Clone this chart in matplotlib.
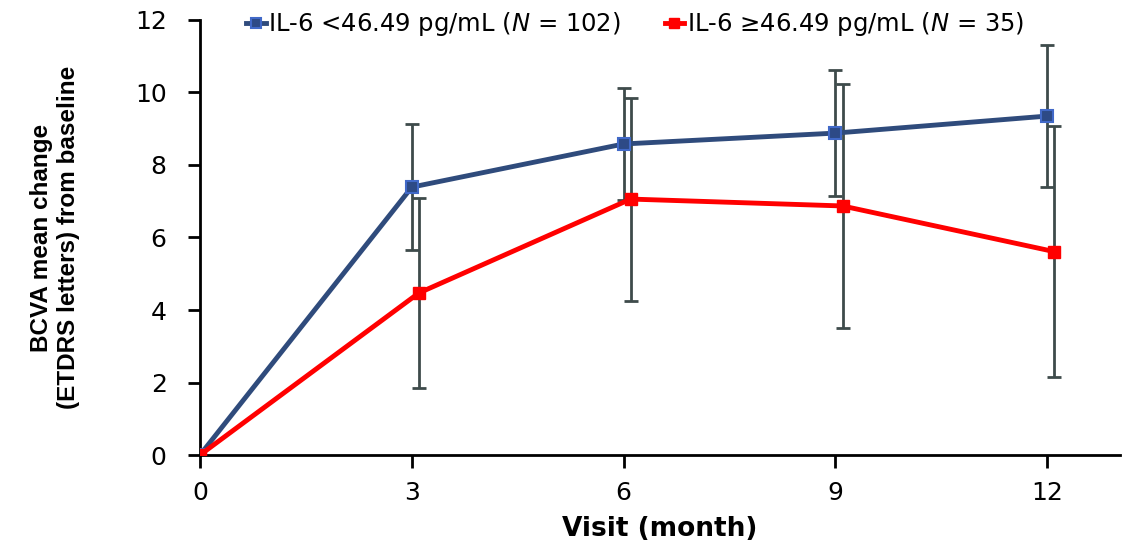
import numpy as np
import matplotlib.pyplot as plt

plt.rcParams['font.family'] = ['Liberation Sans', 'DejaVu Sans']

months = [0, 3, 6, 9, 12]
low_mean = [0, 7.39, 8.58, 8.88, 9.35]
low_err = [0, 1.74, 1.55, 1.74, 1.96]
high_mean = [0, 4.47, 7.06, 6.87, 5.61]
high_err = [0, 2.63, 2.80, 3.36, 3.46]
high_shift = 0.1

low_label = 'IL-6 <46.49 pg/mL ($\\it{N}$ = 102)'
high_label = 'IL-6 \u226546.49 pg/mL ($\\it{N}$ = 35)'

wide = 'DejaVu Sans'

fig = plt.figure(figsize=(11.26, 5.49), dpi=100)
ax = fig.add_axes([0.1776, 0.1712, 0.8171, 0.7924])

bar_col = '#3e4b4b'
x_low = np.array(months, dtype=float)
x_high = x_low + np.array([0] + [high_shift] * 4)

ax.errorbar(x_low[1:], low_mean[1:], yerr=low_err[1:], fmt='none',
            ecolor=bar_col, elinewidth=2, capsize=5, capthick=2, zorder=2)
ax.errorbar(x_high[1:], high_mean[1:], yerr=high_err[1:], fmt='none',
            ecolor=bar_col, elinewidth=2, capsize=5, capthick=2, zorder=2)

ax.plot(x_low, low_mean, color='#2f4b7c', lw=3.5, marker='s', ms=9,
        mfc='#2d4a86', mec='#4169c8', mew=1.5, label=low_label, zorder=3)
ax.plot(x_high, high_mean, color='#ff0000', lw=3.5, marker='s', ms=9,
        mfc='#ff0000', mec='#ff0000', label=high_label, zorder=4)

ax.set_xlim(0, 13.03)
ax.set_ylim(0, 12)
ax.set_xticks(months)
ax.set_yticks(range(0, 13, 2))
ax.spines['top'].set_visible(False)
ax.spines['right'].set_visible(False)
ax.spines['left'].set_linewidth(2)
ax.spines['bottom'].set_linewidth(2)
ax.tick_params(axis='both', width=2, length=9, direction='out')
ax.tick_params(axis='x', pad=10)
ax.tick_params(axis='y', pad=15)
for lab in ax.get_xticklabels() + ax.get_yticklabels():
    lab.set_family(wide)
    lab.set_fontsize(18)

ax.set_xlabel('Visit (month)', fontsize=19, fontweight='bold', family=wide)
ax.xaxis.set_label_coords(0.5, -0.14)
ax.set_ylabel('BCVA mean change\n(ETDRS letters) from baseline', fontsize=17.5,
              fontweight='bold', linespacing=1.25)
ax.yaxis.set_label_coords(-0.13, 0.5)

leg = ax.legend(loc='center', bbox_to_anchor=(0.473, 0.99), ncol=2, frameon=False,
                prop={'family': wide, 'size': 17.5}, handlelength=0.8,
                columnspacing=1.8, handletextpad=0.1, markerscale=0.8)

fig.savefig('out.png', dpi=100)
